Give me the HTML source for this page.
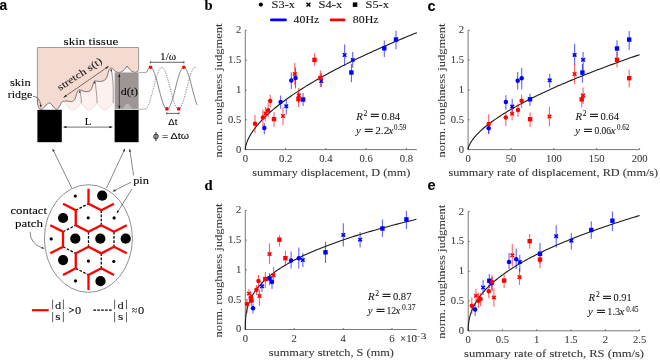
<!DOCTYPE html>
<html><head><meta charset="utf-8"><style>
html,body{margin:0;padding:0;background:#fff;width:660px;height:361px;overflow:hidden}
svg{display:block;will-change:transform}
</style></head><body>
<svg width="660" height="361" viewBox="0 0 660 361"><text x="-0.4" y="10.4" font-size="13.8" fill="#000" text-anchor="start" style="font-family:'Liberation Sans',sans-serif;font-weight:bold;"  stroke="#000" stroke-width="0.08">a</text>
<text x="204.5" y="10.1" font-size="14.6" fill="#000" text-anchor="start" style="font-family:'Liberation Serif',serif;font-weight:bold;"  stroke="#000" stroke-width="0.08">b</text>
<text x="427.6" y="10.6" font-size="14.5" fill="#000" text-anchor="start" style="font-family:'Liberation Sans',sans-serif;font-weight:bold;"  stroke="#000" stroke-width="0.08">c</text>
<text x="204.5" y="189.7" font-size="14.6" fill="#000" text-anchor="start" style="font-family:'Liberation Serif',serif;font-weight:bold;"  stroke="#000" stroke-width="0.08">d</text>
<text x="427.4" y="189.8" font-size="14.5" fill="#000" text-anchor="start" style="font-family:'Liberation Sans',sans-serif;font-weight:bold;"  stroke="#000" stroke-width="0.08">e</text>
<path d="M62.6,101.5 L64.5,103 L70.2,109.3 Q72.8,110.2 75.6,109.3 L81.3,103.2 L86.6,109.3 Q89.1,110.2 91.6,109.3 L97.1,103.2 L102.4,109.3 Q104.9,110.2 107.4,109.3 L113.1,103.2 L114.6,101 L114.6,73 L119.1,72.5 L138.6,72.5 L138.6,70 L119.1,72.5 C118.55,72.38 116.77,72.38 115.80,71.80 C114.83,71.22 114.17,69.62 113.30,69.00 C112.43,68.38 111.35,67.83 110.60,68.10 C109.85,68.37 109.30,69.48 108.80,70.60 C108.30,71.72 108.12,73.37 107.60,74.80 C107.08,76.23 106.65,78.12 105.70,79.20 C104.75,80.28 103.32,80.95 101.90,81.30 C100.48,81.65 98.37,81.37 97.20,81.30 C96.03,81.23 95.48,80.75 94.90,80.90 C94.32,81.05 94.10,81.30 93.70,82.20 C93.30,83.10 93.02,84.95 92.50,86.30 C91.98,87.65 91.57,89.38 90.60,90.30 C89.63,91.22 88.12,91.73 86.70,91.80 C85.28,91.87 83.35,91.03 82.10,90.70 C80.85,90.37 79.90,89.82 79.20,89.80 C78.50,89.78 78.32,89.98 77.90,90.60 C77.48,91.22 77.20,92.07 76.70,93.50 C76.20,94.93 75.75,97.85 74.90,99.20 C74.05,100.55 72.92,101.30 71.60,101.60 C70.28,101.90 68.50,101.02 67.00,101.00 C65.50,100.98 63.33,101.42 62.60,101.50 Z" fill="#fcf1ee" stroke="none"/>
<path d="M64.5,103 L70.2,109.3 Q72.8,110.2 75.6,109.3 L81.3,103.2 L86.6,109.3 Q89.1,110.2 91.6,109.3 L97.1,103.2 L102.4,109.3 Q104.9,110.2 107.4,109.3 L113.1,103.2" fill="none" stroke="#b8a8a4" stroke-width="0.45" stroke-dasharray="0.8,0.6"/>
<path d="M37.4,47.5 L138.6,47.5 L138.6,70 Q137,72.6 135.3,72.4 Q131.5,72.5 127,66 Q123,72.6 119.1,72.5 L119.1,72.5 C118.55,72.38 116.77,72.38 115.80,71.80 C114.83,71.22 114.17,69.62 113.30,69.00 C112.43,68.38 111.35,67.83 110.60,68.10 C109.85,68.37 109.30,69.48 108.80,70.60 C108.30,71.72 108.12,73.37 107.60,74.80 C107.08,76.23 106.65,78.12 105.70,79.20 C104.75,80.28 103.32,80.95 101.90,81.30 C100.48,81.65 98.37,81.37 97.20,81.30 C96.03,81.23 95.48,80.75 94.90,80.90 C94.32,81.05 94.10,81.30 93.70,82.20 C93.30,83.10 93.02,84.95 92.50,86.30 C91.98,87.65 91.57,89.38 90.60,90.30 C89.63,91.22 88.12,91.73 86.70,91.80 C85.28,91.87 83.35,91.03 82.10,90.70 C80.85,90.37 79.90,89.82 79.20,89.80 C78.50,89.78 78.32,89.98 77.90,90.60 C77.48,91.22 77.20,92.07 76.70,93.50 C76.20,94.93 75.75,97.85 74.90,99.20 C74.05,100.55 72.92,101.30 71.60,101.60 C70.28,101.90 68.50,101.02 67.00,101.00 C65.50,100.98 63.33,101.42 62.60,101.50 C60.5,103 59,109.3 56.6,109.3 C54,109.3 52,103 49.3,103 C46.5,103 44,109.3 41.3,109.3 C39,109.3 37.4,106 37.4,100 Z" fill="#f4dad0" stroke="none"/>
<path d="M37.4,100.5 L37.4,47.5 L138.6,47.5 L138.6,70" fill="none" stroke="#8c8480" stroke-width="0.8"/>
<path d="M37.4,100 C37.4,106 39,109.3 41.3,109.3 C44,109.3 46.5,103 49.3,103 C52,103 54,109.3 56.6,109.3 C59,109.3 60.5,103 62.6,101.5 L62.6,101.5 C63.33,101.42 65.50,100.98 67.00,101.00 C68.50,101.02 70.28,101.90 71.60,101.60 C72.92,101.30 74.05,100.55 74.90,99.20 C75.75,97.85 76.20,94.93 76.70,93.50 C77.20,92.07 77.48,91.22 77.90,90.60 C78.32,89.98 78.50,89.78 79.20,89.80 C79.90,89.82 80.85,90.37 82.10,90.70 C83.35,91.03 85.28,91.87 86.70,91.80 C88.12,91.73 89.63,91.22 90.60,90.30 C91.57,89.38 91.98,87.65 92.50,86.30 C93.02,84.95 93.30,83.10 93.70,82.20 C94.10,81.30 94.32,81.05 94.90,80.90 C95.48,80.75 96.03,81.23 97.20,81.30 C98.37,81.37 100.48,81.65 101.90,81.30 C103.32,80.95 104.75,80.28 105.70,79.20 C106.65,78.12 107.08,76.23 107.60,74.80 C108.12,73.37 108.30,71.72 108.80,70.60 C109.30,69.48 109.85,68.37 110.60,68.10 C111.35,67.83 112.43,68.38 113.30,69.00 C114.17,69.62 114.83,71.22 115.80,71.80 C116.77,72.38 118.55,72.38 119.10,72.50 Q123,72.6 127,66 Q131.5,72.5 135.3,72.4 Q137,72.6 138.6,70" fill="none" stroke="#4a4040" stroke-width="0.7" stroke-linejoin="round"/>
<polyline points="79.60,90.50 80.40,93.00 80.90,96.60 81.30,100.00 81.30,103.20" fill="none" stroke="#5a5050" stroke-width="0.55"/>
<polyline points="95.10,81.50 95.60,85.00 96.00,89.60 96.80,96.00 97.10,103.20" fill="none" stroke="#5a5050" stroke-width="0.55"/>
<polyline points="111.00,69.20 112.00,74.00 112.90,81.40 113.30,92.00 113.10,103.20" fill="none" stroke="#5a5050" stroke-width="0.55"/>
<ellipse cx="79.8" cy="91.9" rx="0.6" ry="1.1" fill="#222"/>
<ellipse cx="94.7" cy="82.6" rx="0.6" ry="1.1" fill="#222"/>
<ellipse cx="111.2" cy="70.4" rx="0.6" ry="1.1" fill="#222"/>
<rect x="114.7" y="72.5" width="23.9" height="36.4" fill="#9d9695"/>
<path d="M114.7,72.6 Q117,72.8 119.1,72.5 Q123,72.6 127,66 Q131.5,72.5 135.3,72.4 Q137,72.6 138.6,72.5" fill="none" stroke="none"/>
<path d="M122.6,108.9 L126.3,104 Q127.5,102.9 128.7,104 L132.6,108.9 Z" fill="#b9b5b4"/>
<rect x="37.4" y="109.8" width="24.4" height="32.4" fill="#000"/>
<rect x="114.6" y="109.8" width="24" height="32.4" fill="#000"/>
<path d="M138.6,72.5 L146.7,72.5" stroke="#9a9a9a" stroke-width="0.8" fill="none"/>
<path d="M138.6,109.2 L145.3,109.2" stroke="#9a9a9a" stroke-width="0.8" fill="none"/>
<polyline points="146.70,72.15 147.20,70.97 147.70,69.93 148.20,69.06 148.70,68.36 149.20,67.83 149.70,67.48 150.20,67.31 150.70,67.33 151.20,67.54 151.70,67.92 152.20,68.48 152.70,69.22 153.20,70.13 153.70,71.19 154.20,72.40 154.70,73.76 155.20,75.24 155.70,76.83 156.20,78.53 156.70,80.31 157.20,82.16 157.70,84.06 158.20,86.00 158.70,87.95 159.20,89.91 159.70,91.86 160.20,93.77 160.70,95.63 161.20,97.42 161.70,99.14 162.20,100.75 162.70,102.26 163.20,103.64 163.70,104.88 164.20,105.97 164.70,106.91 165.20,107.68 165.70,108.28 166.20,108.70 166.70,108.94 167.20,109.00 167.70,108.87 168.20,108.56 168.70,108.06 169.20,107.39 169.70,106.56 170.20,105.55 170.70,104.40 171.20,103.10 171.70,101.67 172.20,100.12 172.70,98.46 173.20,96.71 173.70,94.89 174.20,93.01 174.70,91.08 175.20,89.13 175.70,87.17 176.20,85.22 176.70,83.29 177.20,81.41 177.70,79.59 178.20,77.84 178.70,76.18 179.20,74.63 179.70,73.20 180.20,71.90 180.70,70.75 181.20,69.74 181.70,68.91 182.20,68.24 182.70,67.74 183.20,67.43 183.70,67.30 184.20,67.36 184.70,67.60 185.20,68.02 185.70,68.62 186.20,69.39 186.70,70.33 187.20,71.42 187.70,72.66 188.20,74.04 188.70,75.55 189.20,77.16 189.70,78.88 190.20,80.67 190.70,82.53 191.20,84.44 191.70,86.39 192.20,88.35 192.70,90.30 193.20,92.24 193.70,94.14 194.20,95.99 194.70,97.77 195.20,99.47 195.70,101.06 196.20,102.54 196.70,103.90 197.20,105.11" fill="none" stroke="#333" stroke-width="0.6"/>
<polyline points="145.30,108.99 145.80,108.82 146.30,108.47 146.80,107.94 147.30,107.24 147.80,106.37 148.30,105.33 148.80,104.15 149.30,102.82 149.80,101.37 150.30,99.79 150.80,98.12 151.30,96.35 151.80,94.52 152.30,92.63 152.80,90.69 153.30,88.74 153.80,86.78 154.30,84.83 154.80,82.91 155.30,81.04 155.80,79.23 156.30,77.50 156.80,75.86 157.30,74.34 157.80,72.93 158.30,71.66 158.80,70.53 159.30,69.56 159.80,68.76 160.30,68.12 160.80,67.67 161.30,67.39 161.80,67.30 162.30,67.39 162.80,67.67 163.30,68.12 163.80,68.76 164.30,69.56 164.80,70.53 165.30,71.66 165.80,72.93 166.30,74.34 166.80,75.86 167.30,77.50 167.80,79.23 168.30,81.04 168.80,82.91 169.30,84.83 169.80,86.78 170.30,88.74 170.80,90.69 171.30,92.63 171.80,94.52 172.30,96.35 172.80,98.12 173.30,99.79 173.80,101.37 174.30,102.82 174.80,104.15 175.30,105.33 175.80,106.37 176.30,107.24 176.80,107.94 177.30,108.47 177.80,108.82 178.30,108.99 178.80,108.97 179.30,108.76 179.80,108.38 180.30,107.82 180.80,107.08 181.30,106.17 181.80,105.11 182.30,103.90 182.80,102.54 183.30,101.06 183.80,99.47 184.30,97.77 184.80,95.99 185.30,94.14 185.80,92.24 186.30,90.30 186.80,88.35 187.30,86.39 187.80,84.44 188.30,82.53 188.80,80.67 189.30,78.88 189.80,77.16 190.30,75.55 190.80,74.04 191.30,72.66 191.80,71.42 192.30,70.33 192.80,69.39 193.30,68.62 193.80,68.02 194.30,67.60 194.80,67.36 195.30,67.30 195.80,67.43 196.30,67.74 196.80,68.24" fill="none" stroke="#333" stroke-width="0.6" stroke-dasharray="1.2,1.2"/>
<circle cx="150.5" cy="67.3" r="1.8" fill="#ff0000"/>
<circle cx="183.8" cy="67.3" r="1.8" fill="#ff0000"/>
<circle cx="166.9" cy="108.9" r="1.8" fill="#ff0000"/>
<circle cx="178.7" cy="108.9" r="1.8" fill="#ff0000"/>
<path d="M150.2,62.3 L184.1,62.3 M150.4,61.2 L150.4,63.4 M183.9,61.2 L183.9,63.4" stroke="#222" stroke-width="0.7" fill="none"/>
<text x="168.2" y="59.6" font-size="10.5" fill="#000" text-anchor="middle" style="font-family:'Liberation Serif',serif;font-weight:normal;" textLength="16.2" lengthAdjust="spacingAndGlyphs"  stroke="#000" stroke-width="0.08">1/ω</text>
<path d="M166.6,113.4 L179.1,113.4 M166.8,112.3 L166.8,114.5 M178.9,112.3 L178.9,114.5" stroke="#222" stroke-width="0.7" fill="none"/>
<text x="172.8" y="124.5" font-size="9" fill="#000" text-anchor="middle" style="font-family:'Liberation Sans',sans-serif;font-weight:normal;" textLength="9" lengthAdjust="spacingAndGlyphs"  stroke="#000" stroke-width="0.08">Δt</text>
<text x="171" y="139.4" font-size="9.5" fill="#000" text-anchor="middle" style="font-family:'Liberation Sans',sans-serif;font-weight:normal;" textLength="36" lengthAdjust="spacingAndGlyphs"  stroke="#000" stroke-width="0.08">ϕ = Δtω</text>
<path d="M119.3,75.5 L119.3,107.5" stroke="#111" stroke-width="0.6"/>
<path d="M119.3,73.6 L118.2,77 L120.4,77 Z M119.3,109.2 L118.2,105.8 L120.4,105.8 Z" fill="#111"/>
<text x="129.4" y="94.6" font-size="10.3" fill="#000" text-anchor="middle" style="font-family:'Liberation Serif',serif;font-weight:normal;" textLength="17.2" lengthAdjust="spacingAndGlyphs"  stroke="#000" stroke-width="0.08">d(t)</text>
<path d="M64.5,127.1 L111.5,127.1" stroke="#111" stroke-width="0.6"/>
<path d="M62.9,127.1 L66.4,126 L66.4,128.2 Z M112.9,127.1 L109.4,126 L109.4,128.2 Z" fill="#111"/>
<text x="88" y="125.1" font-size="10.6" fill="#000" text-anchor="middle" style="font-family:'Liberation Serif',serif;font-weight:normal;" textLength="6.6" lengthAdjust="spacingAndGlyphs"  stroke="#000" stroke-width="0.08">L</text>
<path d="M63.6,97.4 L108.6,66.3" stroke="#222" stroke-width="0.6"/>
<path d="M108.60,66.30 L106.59,69.02 L105.34,67.21 Z M63.60,97.40 L65.61,94.68 L66.86,96.49 Z" fill="#222"/>
<text x="0" y="0" font-size="10" fill="#1a1a1a" transform="translate(60.0,90.9) rotate(-33.4)" style="font-family:'Liberation Serif',serif" textLength="51.5" lengthAdjust="spacingAndGlyphs" stroke="#1a1a1a" stroke-width="0.08">stretch s(t)</text>
<text x="63.6" y="44.7" font-size="9.4" fill="#000" text-anchor="start" style="font-family:'Liberation Serif',serif;font-weight:normal;" textLength="54.6" lengthAdjust="spacingAndGlyphs"  stroke="#000" stroke-width="0.08">skin tissue</text>
<text x="10" y="85.7" font-size="9.6" fill="#000" text-anchor="start" style="font-family:'Liberation Serif',serif;font-weight:normal;" textLength="20.7" lengthAdjust="spacingAndGlyphs"  stroke="#000" stroke-width="0.08">skin</text>
<text x="7.8" y="97.9" font-size="9.6" fill="#000" text-anchor="start" style="font-family:'Liberation Serif',serif;font-weight:normal;" textLength="24.6" lengthAdjust="spacingAndGlyphs"  stroke="#000" stroke-width="0.08">ridge</text>
<path d="M33,96.2 Q39.5,96.5 40.8,105.5" fill="none" stroke="#222" stroke-width="0.6"/>
<path d="M41.00,107.80 L39.54,104.96 L41.73,104.69 Z" fill="#222"/>
<ellipse cx="88.4" cy="238.55" rx="44" ry="53.85" fill="none" stroke="#333" stroke-width="0.55"/>
<path d="M75.75,210.25 L88.50,203.70 M101.25,210.25 L101.25,225.25 M63.00,231.80 L75.75,225.25 M88.50,231.80 L88.50,246.80 M114.00,231.80 L114.00,246.80 M63.00,246.80 L75.75,253.35 M101.25,253.35 L101.25,268.35 M75.75,268.35 L88.50,274.90" stroke="#000" stroke-width="1.25" stroke-dasharray="2.7,1.5" fill="none"/>
<path d="M88.5,188.7 L88.5,203.7 L101.25,210.25 L114.0,203.7 M63.0,203.7 L75.75,210.25 L75.75,225.25 L88.5,231.8 L101.25,225.25 L114.0,231.8 L126.75,225.25 M50.25,225.25 L63.0,231.8 L63.0,246.8 L50.25,253.35 M63.0,274.9 L75.75,268.35 L75.75,253.35 L88.5,246.8 L101.25,253.35 L114.0,246.8 L126.75,253.35 M88.5,289.9 L88.5,274.9 L101.25,268.35 L114.0,274.9" stroke="#ff0000" stroke-width="2.3" stroke-linecap="butt" stroke-linejoin="miter" stroke-miterlimit="3" fill="none"/>
<circle cx="102.20" cy="195.70" r="5.1" fill="#000"/>
<circle cx="63.10" cy="218.00" r="5.1" fill="#000"/>
<circle cx="75.30" cy="238.70" r="5.1" fill="#000"/>
<circle cx="100.30" cy="238.70" r="5.1" fill="#000"/>
<circle cx="125.70" cy="238.70" r="5.1" fill="#000"/>
<circle cx="63.10" cy="260.10" r="5.1" fill="#000"/>
<circle cx="100.50" cy="281.20" r="5.1" fill="#000"/>
<circle cx="75.30" cy="196.10" r="1.6" fill="#000"/>
<circle cx="88.20" cy="217.80" r="1.6" fill="#000"/>
<circle cx="114.10" cy="217.90" r="1.6" fill="#000"/>
<circle cx="51.20" cy="238.90" r="1.6" fill="#000"/>
<circle cx="88.40" cy="261.10" r="1.6" fill="#000"/>
<circle cx="113.80" cy="261.40" r="1.6" fill="#000"/>
<circle cx="75.50" cy="280.90" r="1.6" fill="#000"/>
<path d="M71.8,188.2 L53.50,150.65" stroke="#222" stroke-width="0.55"/>
<path d="M52.40,148.40 L54.79,150.79 L52.81,151.76 Z" fill="#222"/>
<path d="M106.4,188.2 L124.04,150.66" stroke="#222" stroke-width="0.55"/>
<path d="M125.10,148.40 L124.73,151.76 L122.74,150.83 Z" fill="#222"/>
<path d="M133.6,175.5 L129.97,150.87" stroke="#222" stroke-width="0.55"/>
<path d="M129.60,148.40 L131.16,151.41 L128.98,151.73 Z" fill="#222"/>
<path d="M131,182.2 L114.73,190.47" stroke="#222" stroke-width="0.55"/>
<path d="M112.50,191.60 L114.85,189.17 L115.85,191.13 Z" fill="#222"/>
<path d="M132,189 L117.93,211.48" stroke="#222" stroke-width="0.55"/>
<path d="M116.60,213.60 L117.37,210.30 L119.23,211.47 Z" fill="#222"/>
<text x="133.2" y="184.1" font-size="9.6" fill="#000" text-anchor="start" style="font-family:'Liberation Serif',serif;font-weight:normal;" textLength="15.8" lengthAdjust="spacingAndGlyphs"  stroke="#000" stroke-width="0.08">pin</text>
<text x="10.5" y="214.2" font-size="9.6" fill="#000" text-anchor="start" style="font-family:'Liberation Serif',serif;font-weight:normal;" textLength="36.5" lengthAdjust="spacingAndGlyphs"  stroke="#000" stroke-width="0.08">contact</text>
<text x="15" y="226.6" font-size="9.6" fill="#000" text-anchor="start" style="font-family:'Liberation Serif',serif;font-weight:normal;" textLength="28" lengthAdjust="spacingAndGlyphs"  stroke="#000" stroke-width="0.08">patch</text>
<path d="M30,231.8 Q30.5,244 42,247.8" fill="none" stroke="#222" stroke-width="0.55"/>
<path d="M44.50,248.40 L41.54,248.69 L42.03,246.75 Z" fill="#222"/>
<path d="M32,310.2 L48.7,310.2" stroke="#ff0000" stroke-width="2.2"/>
<path d="M93.4,310.2 L111.8,310.2" stroke="#000" stroke-width="1.3" stroke-dasharray="2.6,1.3"/>
<path d="M52.6,299.6 L52.6,309.3 M52.6,312 L52.6,322.2" stroke="#444" stroke-width="0.85"/>
<path d="M63.4,299.6 L63.4,309.3 M63.4,312 L63.4,322.2" stroke="#444" stroke-width="0.85"/>
<text x="58.0" y="308.9" font-size="10.4" fill="#111" text-anchor="middle" style="font-family:'Liberation Serif',serif;font-weight:normal;" textLength="6.2" lengthAdjust="spacingAndGlyphs"  stroke="#111" stroke-width="0.08">d</text>
<text x="58.0" y="320.3" font-size="10.4" fill="#111" text-anchor="middle" style="font-family:'Liberation Serif',serif;font-weight:normal;" textLength="5.3" lengthAdjust="spacingAndGlyphs"  stroke="#111" stroke-width="0.08">s</text>
<path d="M114.6,299.6 L114.6,309.3 M114.6,312 L114.6,322.2" stroke="#444" stroke-width="0.85"/>
<path d="M126.5,299.6 L126.5,309.3 M126.5,312 L126.5,322.2" stroke="#444" stroke-width="0.85"/>
<text x="120.55" y="308.9" font-size="10.4" fill="#111" text-anchor="middle" style="font-family:'Liberation Serif',serif;font-weight:normal;" textLength="6.2" lengthAdjust="spacingAndGlyphs"  stroke="#111" stroke-width="0.08">d</text>
<text x="120.55" y="320.3" font-size="10.4" fill="#111" text-anchor="middle" style="font-family:'Liberation Serif',serif;font-weight:normal;" textLength="5.3" lengthAdjust="spacingAndGlyphs"  stroke="#111" stroke-width="0.08">s</text>
<path d="M68.9,307.8 L73.8,310.1 L68.9,312.4" fill="none" stroke="#111" stroke-width="0.9"/>
<text x="75.0" y="313.9" font-size="11" fill="#111" text-anchor="start" style="font-family:'Liberation Serif',serif;font-weight:normal;" textLength="6.2" lengthAdjust="spacingAndGlyphs"  stroke="#111" stroke-width="0.08">0</text>
<text x="131.7" y="314.0" font-size="11" fill="#111" text-anchor="start" style="font-family:'Liberation Serif',serif;font-weight:normal;" textLength="5.4" lengthAdjust="spacingAndGlyphs"  stroke="#111" stroke-width="0.08">≈</text>
<text x="137.9" y="314.3" font-size="11" fill="#111" text-anchor="start" style="font-family:'Liberation Serif',serif;font-weight:normal;" textLength="6.2" lengthAdjust="spacingAndGlyphs"  stroke="#111" stroke-width="0.08">0</text>
<path d="M245.3,30.3 L245.3,149.6 L416.8,149.6" fill="none" stroke="#555" stroke-width="0.8"/>
<path d="M245.3,149.60 L246.9,149.60" stroke="#555" stroke-width="0.8"/>
<text x="241.20000000000002" y="152.5" font-size="10.6" fill="#3a3a3a" text-anchor="end" style="font-family:'Liberation Serif',serif;font-weight:normal;"  stroke="#3a3a3a" stroke-width="0.08">0</text>
<path d="M245.3,119.77 L246.9,119.77" stroke="#555" stroke-width="0.8"/>
<text x="241.20000000000002" y="122.675" font-size="10.6" fill="#3a3a3a" text-anchor="end" style="font-family:'Liberation Serif',serif;font-weight:normal;"  stroke="#3a3a3a" stroke-width="0.08">0.5</text>
<path d="M245.3,89.95 L246.9,89.95" stroke="#555" stroke-width="0.8"/>
<text x="241.20000000000002" y="92.85" font-size="10.6" fill="#3a3a3a" text-anchor="end" style="font-family:'Liberation Serif',serif;font-weight:normal;"  stroke="#3a3a3a" stroke-width="0.08">1</text>
<path d="M245.3,60.12 L246.9,60.12" stroke="#555" stroke-width="0.8"/>
<text x="241.20000000000002" y="63.025" font-size="10.6" fill="#3a3a3a" text-anchor="end" style="font-family:'Liberation Serif',serif;font-weight:normal;"  stroke="#3a3a3a" stroke-width="0.08">1.5</text>
<path d="M245.3,30.30 L246.9,30.30" stroke="#555" stroke-width="0.8"/>
<text x="241.20000000000002" y="33.199999999999996" font-size="10.6" fill="#3a3a3a" text-anchor="end" style="font-family:'Liberation Serif',serif;font-weight:normal;"  stroke="#3a3a3a" stroke-width="0.08">2</text>
<path d="M245.30,149.6 L245.30,148.0" stroke="#555" stroke-width="0.8"/>
<text x="245.3" y="162.0" font-size="10.6" fill="#3a3a3a" text-anchor="middle" style="font-family:'Liberation Serif',serif;font-weight:normal;"  stroke="#3a3a3a" stroke-width="0.08">0</text>
<path d="M285.58,149.6 L285.58,148.0" stroke="#555" stroke-width="0.8"/>
<text x="285.58000000000004" y="162.0" font-size="10.6" fill="#3a3a3a" text-anchor="middle" style="font-family:'Liberation Serif',serif;font-weight:normal;"  stroke="#3a3a3a" stroke-width="0.08">0.2</text>
<path d="M325.86,149.6 L325.86,148.0" stroke="#555" stroke-width="0.8"/>
<text x="325.86" y="162.0" font-size="10.6" fill="#3a3a3a" text-anchor="middle" style="font-family:'Liberation Serif',serif;font-weight:normal;"  stroke="#3a3a3a" stroke-width="0.08">0.4</text>
<path d="M366.14,149.6 L366.14,148.0" stroke="#555" stroke-width="0.8"/>
<text x="366.14" y="162.0" font-size="10.6" fill="#3a3a3a" text-anchor="middle" style="font-family:'Liberation Serif',serif;font-weight:normal;"  stroke="#3a3a3a" stroke-width="0.08">0.6</text>
<path d="M406.42,149.6 L406.42,148.0" stroke="#555" stroke-width="0.8"/>
<text x="406.42" y="162.0" font-size="10.6" fill="#3a3a3a" text-anchor="middle" style="font-family:'Liberation Serif',serif;font-weight:normal;"  stroke="#3a3a3a" stroke-width="0.08">0.8</text>
<polyline points="245.30,149.60 245.31,149.19 245.35,148.67 245.41,148.09 245.49,147.49 245.60,146.85 245.73,146.19 245.88,145.51 246.06,144.81 246.27,144.10 246.49,143.37 246.74,142.63 247.02,141.87 247.31,141.11 247.64,140.33 247.98,139.55 248.35,138.75 248.74,137.94 249.16,137.13 249.60,136.31 250.07,135.48 250.56,134.64 251.07,133.80 251.60,132.95 252.16,132.09 252.75,131.23 253.36,130.36 253.99,129.48 254.64,128.60 255.32,127.71 256.02,126.82 256.75,125.92 257.50,125.02 258.28,124.11 259.08,123.19 259.90,122.27 260.74,121.35 261.61,120.42 262.51,119.49 263.42,118.55 264.37,117.61 265.33,116.66 266.32,115.71 267.33,114.76 268.37,113.80 269.43,112.84 270.51,111.87 271.62,110.90 272.75,109.93 273.91,108.95 275.09,107.97 276.29,106.99 277.52,106.00 278.77,105.01 280.05,104.02 281.35,103.02 282.67,102.02 284.02,101.01 285.39,100.01 286.78,99.00 288.20,97.98 289.64,96.97 291.11,95.95 292.60,94.92 294.11,93.90 295.65,92.87 297.21,91.84 298.79,90.80 300.40,89.77 302.03,88.73 303.69,87.68 305.37,86.64 307.07,85.59 308.80,84.54 310.55,83.49 312.33,82.43 314.13,81.38 315.95,80.31 317.80,79.25 319.67,78.19 321.56,77.12 323.48,76.05 325.42,74.98 327.39,73.90 329.38,72.82 331.39,71.74 333.43,70.66 335.49,69.58 337.58,68.49 339.69,67.40 341.82,66.31 343.98,65.22 346.16,64.12 348.36,63.02 350.59,61.93 352.84,60.82 355.12,59.72 357.42,58.61 359.74,57.51 362.09,56.40 364.46,55.28 366.86,54.17 369.28,53.05 371.72,51.94 374.19,50.82 376.68,49.70 379.19,48.57 381.73,47.45 384.29,46.32 386.88,45.19 389.49,44.06 392.12,42.92 394.78,41.79 397.46,40.65 400.16,39.51 402.89,38.37 405.64,37.23 408.42,36.09 411.22,34.94 414.04,33.79 416.89,32.65" fill="none" stroke="#1a1a1a" stroke-width="1.1"/>
<path d="M255,114.9 L255,132.9" stroke="#ff0000" stroke-opacity="0.62" stroke-width="1.1"/>
<path d="M264.3,123.2 L264.3,134.3" stroke="#0000ff" stroke-opacity="0.62" stroke-width="1.1"/>
<path d="M262.9,109.4 L262.9,126" stroke="#ff0000" stroke-opacity="0.62" stroke-width="1.1"/>
<path d="M265.5,107 L265.5,121" stroke="#ff0000" stroke-opacity="0.62" stroke-width="1.1"/>
<path d="M268.1,103 L268.1,117.5" stroke="#ff0000" stroke-opacity="0.62" stroke-width="1.1"/>
<path d="M270.2,94.8 L270.2,107.3" stroke="#ff0000" stroke-opacity="0.62" stroke-width="1.1"/>
<path d="M274,112.2 L274,126.7" stroke="#ff0000" stroke-opacity="0.62" stroke-width="1.1"/>
<path d="M280.6,95.5 L280.6,108.7" stroke="#0000ff" stroke-opacity="0.62" stroke-width="1.1"/>
<path d="M286.3,99 L286.3,114.2" stroke="#0000ff" stroke-opacity="0.62" stroke-width="1.1"/>
<path d="M283,107.3 L283,125.3" stroke="#ff0000" stroke-opacity="0.62" stroke-width="1.1"/>
<path d="M291.3,72.5 L291.3,89.1" stroke="#0000ff" stroke-opacity="0.62" stroke-width="1.1"/>
<path d="M295.5,67.6 L295.5,88.4" stroke="#0000ff" stroke-opacity="0.62" stroke-width="1.1"/>
<path d="M294.8,62.8 L294.8,85" stroke="#ff0000" stroke-opacity="0.62" stroke-width="1.1"/>
<path d="M298.8,88 L298.8,103" stroke="#ff0000" stroke-opacity="0.62" stroke-width="1.1"/>
<path d="M298.5,92 L298.5,107" stroke="#ff0000" stroke-opacity="0.62" stroke-width="1.1"/>
<path d="M303.1,93 L303.1,106" stroke="#0000ff" stroke-opacity="0.62" stroke-width="1.1"/>
<path d="M314.5,53.1 L314.5,65.7" stroke="#ff0000" stroke-opacity="0.62" stroke-width="1.1"/>
<path d="M321.3,73 L321.3,87" stroke="#0000ff" stroke-opacity="0.62" stroke-width="1.1"/>
<path d="M320.4,70.6 L320.4,87" stroke="#ff0000" stroke-opacity="0.62" stroke-width="1.1"/>
<path d="M344.6,44.4 L344.6,65.7" stroke="#0000ff" stroke-opacity="0.62" stroke-width="1.1"/>
<path d="M352.7,52.1 L352.7,67.7" stroke="#0000ff" stroke-opacity="0.62" stroke-width="1.1"/>
<path d="M351.4,63.8 L351.4,82.2" stroke="#0000ff" stroke-opacity="0.62" stroke-width="1.1"/>
<path d="M384.3,40.5 L384.3,57" stroke="#0000ff" stroke-opacity="0.62" stroke-width="1.1"/>
<path d="M396,30.8 L396,49.2" stroke="#0000ff" stroke-opacity="0.62" stroke-width="1.1"/>
<circle cx="255" cy="123.8" r="2.25" fill="#ff0000"/>
<circle cx="264.3" cy="128.1" r="2.25" fill="#0000ff"/>
<circle cx="262.9" cy="117.5" r="2.25" fill="#ff0000"/>
<path d="M263.7,111.8 L267.3,115.2 M263.7,115.2 L267.3,111.8" stroke="#ff0000" stroke-width="1.55"/>
<circle cx="268.1" cy="110.2" r="2.25" fill="#ff0000"/>
<circle cx="270.2" cy="101" r="2.25" fill="#ff0000"/>
<rect x="271.8" y="116.89999999999999" width="4.4" height="4.4" fill="#ff0000"/>
<circle cx="280.6" cy="101.9" r="2.25" fill="#0000ff"/>
<path d="M284.5,104.5 L288.1,107.9 M284.5,107.9 L288.1,104.5" stroke="#0000ff" stroke-width="1.55"/>
<path d="M281.2,114.3 L284.8,117.7 M281.2,117.7 L284.8,114.3" stroke="#ff0000" stroke-width="1.55"/>
<circle cx="291.3" cy="80.5" r="2.25" fill="#0000ff"/>
<circle cx="295.5" cy="78" r="2.25" fill="#0000ff"/>
<path d="M293.0,72.2 L296.6,75.60000000000001 M293.0,75.60000000000001 L296.6,72.2" stroke="#ff0000" stroke-width="1.55"/>
<path d="M297.0,93.6 L300.6,97.0 M297.0,97.0 L300.6,93.6" stroke="#ff0000" stroke-width="1.55"/>
<rect x="296.3" y="97.0" width="4.4" height="4.4" fill="#ff0000"/>
<rect x="300.90000000000003" y="97.3" width="4.4" height="4.4" fill="#0000ff"/>
<rect x="312.3" y="57.699999999999996" width="4.4" height="4.4" fill="#ff0000"/>
<path d="M319.5,79.3 L323.1,82.7 M319.5,82.7 L323.1,79.3" stroke="#0000ff" stroke-width="1.55"/>
<rect x="318.2" y="75.8" width="4.4" height="4.4" fill="#ff0000"/>
<path d="M342.8,53.3 L346.40000000000003,56.7 M342.8,56.7 L346.40000000000003,53.3" stroke="#0000ff" stroke-width="1.55"/>
<path d="M350.9,58.199999999999996 L354.5,61.6 M350.9,61.6 L354.5,58.199999999999996" stroke="#0000ff" stroke-width="1.55"/>
<rect x="349.2" y="70.3" width="4.4" height="4.4" fill="#0000ff"/>
<rect x="382.1" y="46.099999999999994" width="4.4" height="4.4" fill="#0000ff"/>
<rect x="393.8" y="37.3" width="4.4" height="4.4" fill="#0000ff"/>
<text x="0" y="0" font-size="11.4" fill="#3a3a3a" transform="translate(222.4,90.45) rotate(-90)" text-anchor="middle" style="font-family:'Liberation Serif',serif" textLength="134" lengthAdjust="spacingAndGlyphs" stroke="#3a3a3a" stroke-width="0.08">norm. roughness judgment</text>
<text x="252.3" y="175.9" font-size="10.8" fill="#333" text-anchor="start" style="font-family:'Liberation Serif',serif;font-weight:normal;" textLength="158.1" lengthAdjust="spacingAndGlyphs"  stroke="#333" stroke-width="0.08">summary displacement, D (mm)</text>
<path d="M468.1,30.3 L468.1,149.6 L639.6,149.6" fill="none" stroke="#555" stroke-width="0.8"/>
<path d="M468.1,149.60 L469.70000000000005,149.60" stroke="#555" stroke-width="0.8"/>
<text x="464.0" y="152.5" font-size="10.6" fill="#3a3a3a" text-anchor="end" style="font-family:'Liberation Serif',serif;font-weight:normal;"  stroke="#3a3a3a" stroke-width="0.08">0</text>
<path d="M468.1,119.77 L469.70000000000005,119.77" stroke="#555" stroke-width="0.8"/>
<text x="464.0" y="122.675" font-size="10.6" fill="#3a3a3a" text-anchor="end" style="font-family:'Liberation Serif',serif;font-weight:normal;"  stroke="#3a3a3a" stroke-width="0.08">0.5</text>
<path d="M468.1,89.95 L469.70000000000005,89.95" stroke="#555" stroke-width="0.8"/>
<text x="464.0" y="92.85" font-size="10.6" fill="#3a3a3a" text-anchor="end" style="font-family:'Liberation Serif',serif;font-weight:normal;"  stroke="#3a3a3a" stroke-width="0.08">1</text>
<path d="M468.1,60.12 L469.70000000000005,60.12" stroke="#555" stroke-width="0.8"/>
<text x="464.0" y="63.025" font-size="10.6" fill="#3a3a3a" text-anchor="end" style="font-family:'Liberation Serif',serif;font-weight:normal;"  stroke="#3a3a3a" stroke-width="0.08">1.5</text>
<path d="M468.1,30.30 L469.70000000000005,30.30" stroke="#555" stroke-width="0.8"/>
<text x="464.0" y="33.199999999999996" font-size="10.6" fill="#3a3a3a" text-anchor="end" style="font-family:'Liberation Serif',serif;font-weight:normal;"  stroke="#3a3a3a" stroke-width="0.08">2</text>
<path d="M468.10,149.6 L468.10,148.0" stroke="#555" stroke-width="0.8"/>
<text x="468.1" y="162.0" font-size="10.6" fill="#3a3a3a" text-anchor="middle" style="font-family:'Liberation Serif',serif;font-weight:normal;"  stroke="#3a3a3a" stroke-width="0.08">0</text>
<path d="M510.98,149.6 L510.98,148.0" stroke="#555" stroke-width="0.8"/>
<text x="510.975" y="162.0" font-size="10.6" fill="#3a3a3a" text-anchor="middle" style="font-family:'Liberation Serif',serif;font-weight:normal;"  stroke="#3a3a3a" stroke-width="0.08">50</text>
<path d="M553.85,149.6 L553.85,148.0" stroke="#555" stroke-width="0.8"/>
<text x="553.85" y="162.0" font-size="10.6" fill="#3a3a3a" text-anchor="middle" style="font-family:'Liberation Serif',serif;font-weight:normal;"  stroke="#3a3a3a" stroke-width="0.08">100</text>
<path d="M596.73,149.6 L596.73,148.0" stroke="#555" stroke-width="0.8"/>
<text x="596.725" y="162.0" font-size="10.6" fill="#3a3a3a" text-anchor="middle" style="font-family:'Liberation Serif',serif;font-weight:normal;"  stroke="#3a3a3a" stroke-width="0.08">150</text>
<path d="M639.60,149.6 L639.60,148.0" stroke="#555" stroke-width="0.8"/>
<text x="639.6" y="162.0" font-size="10.6" fill="#3a3a3a" text-anchor="middle" style="font-family:'Liberation Serif',serif;font-weight:normal;"  stroke="#3a3a3a" stroke-width="0.08">200</text>
<polyline points="468.10,149.60 468.11,149.35 468.15,149.01 468.21,148.62 468.29,148.20 468.40,147.75 468.53,147.29 468.68,146.80 468.86,146.30 469.06,145.78 469.29,145.24 469.54,144.70 469.81,144.14 470.11,143.57 470.43,142.99 470.78,142.39 471.15,141.79 471.54,141.18 471.96,140.57 472.40,139.94 472.86,139.31 473.35,138.66 473.86,138.01 474.40,137.36 474.96,136.69 475.54,136.02 476.15,135.35 476.78,134.67 477.44,133.98 478.12,133.28 478.82,132.58 479.55,131.87 480.30,131.16 481.07,130.45 481.87,129.72 482.69,129.00 483.54,128.26 484.40,127.53 485.30,126.78 486.21,126.04 487.16,125.29 488.12,124.53 489.11,123.77 490.12,123.00 491.16,122.24 492.22,121.46 493.30,120.68 494.41,119.90 495.54,119.12 496.70,118.33 497.87,117.53 499.08,116.74 500.30,115.94 501.55,115.13 502.83,114.32 504.13,113.51 505.45,112.70 506.79,111.88 508.16,111.06 509.56,110.23 510.98,109.40 512.42,108.57 513.88,107.73 515.37,106.89 516.88,106.05 518.42,105.21 519.98,104.36 521.56,103.51 523.17,102.65 524.80,101.79 526.46,100.93 528.14,100.07 529.84,99.20 531.57,98.33 533.32,97.46 535.09,96.59 536.89,95.71 538.71,94.83 540.56,93.94 542.43,93.06 544.32,92.17 546.24,91.28 548.18,90.38 550.15,89.49 552.13,88.59 554.15,87.69 556.18,86.78 558.24,85.87 560.33,84.96 562.44,84.05 564.57,83.14 566.72,82.22 568.90,81.30 571.11,80.38 573.33,79.46 575.59,78.53 577.86,77.60 580.16,76.67 582.48,75.74 584.83,74.80 587.20,73.86 589.59,72.92 592.01,71.98 594.45,71.04 596.92,70.09 599.40,69.14 601.92,68.19 604.45,67.23 607.02,66.28 609.60,65.32 612.21,64.36 614.84,63.40 617.50,62.44 620.18,61.47 622.88,60.50 625.61,59.53 628.36,58.56 631.13,57.58 633.93,56.61 636.75,55.63 639.60,54.65" fill="none" stroke="#1a1a1a" stroke-width="1.1"/>
<path d="M488.7,114.2 L488.7,134" stroke="#ff0000" stroke-opacity="0.62" stroke-width="1.1"/>
<path d="M488.7,122 L488.7,134" stroke="#0000ff" stroke-opacity="0.62" stroke-width="1.1"/>
<path d="M505.9,95.3 L505.9,109.7" stroke="#0000ff" stroke-opacity="0.62" stroke-width="1.1"/>
<path d="M505.8,111.5 L505.8,125.9" stroke="#ff0000" stroke-opacity="0.62" stroke-width="1.1"/>
<path d="M512.2,98.9 L512.2,114.2" stroke="#0000ff" stroke-opacity="0.62" stroke-width="1.1"/>
<path d="M512.1,107 L512.1,120.5" stroke="#ff0000" stroke-opacity="0.62" stroke-width="1.1"/>
<path d="M518,103.4 L518,116.9" stroke="#ff0000" stroke-opacity="0.62" stroke-width="1.1"/>
<path d="M521.6,94.4 L521.6,107.9" stroke="#ff0000" stroke-opacity="0.62" stroke-width="1.1"/>
<path d="M530,93.5 L530,106.1" stroke="#0000ff" stroke-opacity="0.62" stroke-width="1.1"/>
<path d="M530.1,112.4 L530.1,126.8" stroke="#ff0000" stroke-opacity="0.62" stroke-width="1.1"/>
<path d="M517.7,72 L517.7,89.4" stroke="#0000ff" stroke-opacity="0.62" stroke-width="1.1"/>
<path d="M521.7,68.1 L521.7,89.4" stroke="#0000ff" stroke-opacity="0.62" stroke-width="1.1"/>
<path d="M549.7,73.9 L549.7,87.5" stroke="#0000ff" stroke-opacity="0.62" stroke-width="1.1"/>
<path d="M549.4,106.8 L549.4,126.2" stroke="#ff0000" stroke-opacity="0.62" stroke-width="1.1"/>
<path d="M574.6,43.8 L574.6,65" stroke="#0000ff" stroke-opacity="0.62" stroke-width="1.1"/>
<path d="M574.6,63.9 L574.6,83.9" stroke="#ff0000" stroke-opacity="0.62" stroke-width="1.1"/>
<path d="M583.1,52.1 L583.1,70.9" stroke="#0000ff" stroke-opacity="0.62" stroke-width="1.1"/>
<path d="M582.4,63.9 L582.4,82.7" stroke="#0000ff" stroke-opacity="0.62" stroke-width="1.1"/>
<path d="M583.1,87.4 L583.1,103.9" stroke="#ff0000" stroke-opacity="0.62" stroke-width="1.1"/>
<path d="M581.7,93.3 L581.7,107.4" stroke="#ff0000" stroke-opacity="0.62" stroke-width="1.1"/>
<path d="M617,40.3 L617,56.8" stroke="#0000ff" stroke-opacity="0.62" stroke-width="1.1"/>
<path d="M617,52.1 L617,67.4" stroke="#ff0000" stroke-opacity="0.62" stroke-width="1.1"/>
<path d="M629.2,30.9 L629.2,49.7" stroke="#0000ff" stroke-opacity="0.62" stroke-width="1.1"/>
<path d="M629.2,69.7 L629.2,87.4" stroke="#ff0000" stroke-opacity="0.62" stroke-width="1.1"/>
<circle cx="488.7" cy="124.1" r="2.25" fill="#ff0000"/>
<circle cx="488.7" cy="128.2" r="2.25" fill="#0000ff"/>
<circle cx="505.9" cy="102" r="2.25" fill="#0000ff"/>
<circle cx="505.8" cy="117.4" r="2.25" fill="#ff0000"/>
<path d="M510.40000000000003,104.89999999999999 L514.0,108.3 M510.40000000000003,108.3 L514.0,104.89999999999999" stroke="#0000ff" stroke-width="1.55"/>
<path d="M510.3,112.1 L513.9,115.5 M510.3,115.5 L513.9,112.1" stroke="#ff0000" stroke-width="1.55"/>
<circle cx="518" cy="109.9" r="2.25" fill="#ff0000"/>
<circle cx="521.6" cy="100.7" r="2.25" fill="#ff0000"/>
<rect x="527.8" y="97.1" width="4.4" height="4.4" fill="#0000ff"/>
<rect x="527.9" y="117.0" width="4.4" height="4.4" fill="#ff0000"/>
<circle cx="517.7" cy="80.7" r="2.25" fill="#0000ff"/>
<circle cx="521.7" cy="78.2" r="2.25" fill="#0000ff"/>
<path d="M547.9000000000001,78.6 L551.5,82.0 M547.9000000000001,82.0 L551.5,78.6" stroke="#0000ff" stroke-width="1.55"/>
<path d="M547.6,114.8 L551.1999999999999,118.2 M547.6,118.2 L551.1999999999999,114.8" stroke="#ff0000" stroke-width="1.55"/>
<path d="M572.8000000000001,53.199999999999996 L576.4,56.6 M572.8000000000001,56.6 L576.4,53.199999999999996" stroke="#0000ff" stroke-width="1.55"/>
<path d="M572.8000000000001,72.3 L576.4,75.7 M572.8000000000001,75.7 L576.4,72.3" stroke="#ff0000" stroke-width="1.55"/>
<path d="M581.3000000000001,58.099999999999994 L584.9,61.5 M581.3000000000001,61.5 L584.9,58.099999999999994" stroke="#0000ff" stroke-width="1.55"/>
<rect x="580.1999999999999" y="70.39999999999999" width="4.4" height="4.4" fill="#0000ff"/>
<path d="M581.3000000000001,93.89999999999999 L584.9,97.3 M581.3000000000001,97.3 L584.9,93.89999999999999" stroke="#ff0000" stroke-width="1.55"/>
<rect x="579.5" y="97.2" width="4.4" height="4.4" fill="#ff0000"/>
<rect x="614.8" y="46.3" width="4.4" height="4.4" fill="#0000ff"/>
<rect x="614.8" y="57.599999999999994" width="4.4" height="4.4" fill="#ff0000"/>
<rect x="627.0" y="37.4" width="4.4" height="4.4" fill="#0000ff"/>
<rect x="627.0" y="76.0" width="4.4" height="4.4" fill="#ff0000"/>
<text x="0" y="0" font-size="11.4" fill="#3a3a3a" transform="translate(445.4,90.45) rotate(-90)" text-anchor="middle" style="font-family:'Liberation Serif',serif" textLength="134" lengthAdjust="spacingAndGlyphs" stroke="#3a3a3a" stroke-width="0.08">norm. roughness judgment</text>
<text x="448.4" y="175.5" font-size="10.8" fill="#333" text-anchor="start" style="font-family:'Liberation Serif',serif;font-weight:normal;" textLength="209.8" lengthAdjust="spacingAndGlyphs"  stroke="#333" stroke-width="0.08">summary rate of displacement, RD (mm/s)</text>
<path d="M245.3,210.3 L245.3,329.5 L416.8,329.5" fill="none" stroke="#555" stroke-width="0.8"/>
<path d="M245.3,329.50 L246.9,329.50" stroke="#555" stroke-width="0.8"/>
<text x="241.20000000000002" y="332.4" font-size="10.6" fill="#3a3a3a" text-anchor="end" style="font-family:'Liberation Serif',serif;font-weight:normal;"  stroke="#3a3a3a" stroke-width="0.08">0</text>
<path d="M245.3,299.70 L246.9,299.70" stroke="#555" stroke-width="0.8"/>
<text x="241.20000000000002" y="302.59999999999997" font-size="10.6" fill="#3a3a3a" text-anchor="end" style="font-family:'Liberation Serif',serif;font-weight:normal;"  stroke="#3a3a3a" stroke-width="0.08">0.5</text>
<path d="M245.3,269.90 L246.9,269.90" stroke="#555" stroke-width="0.8"/>
<text x="241.20000000000002" y="272.79999999999995" font-size="10.6" fill="#3a3a3a" text-anchor="end" style="font-family:'Liberation Serif',serif;font-weight:normal;"  stroke="#3a3a3a" stroke-width="0.08">1</text>
<path d="M245.3,240.10 L246.9,240.10" stroke="#555" stroke-width="0.8"/>
<text x="241.20000000000002" y="243.00000000000003" font-size="10.6" fill="#3a3a3a" text-anchor="end" style="font-family:'Liberation Serif',serif;font-weight:normal;"  stroke="#3a3a3a" stroke-width="0.08">1.5</text>
<path d="M245.3,210.30 L246.9,210.30" stroke="#555" stroke-width="0.8"/>
<text x="241.20000000000002" y="213.20000000000002" font-size="10.6" fill="#3a3a3a" text-anchor="end" style="font-family:'Liberation Serif',serif;font-weight:normal;"  stroke="#3a3a3a" stroke-width="0.08">2</text>
<path d="M245.30,329.5 L245.30,327.9" stroke="#555" stroke-width="0.8"/>
<text x="245.3" y="342.2" font-size="10.6" fill="#3a3a3a" text-anchor="middle" style="font-family:'Liberation Serif',serif;font-weight:normal;"  stroke="#3a3a3a" stroke-width="0.08">0</text>
<path d="M294.20,329.5 L294.20,327.9" stroke="#555" stroke-width="0.8"/>
<text x="294.2" y="342.2" font-size="10.6" fill="#3a3a3a" text-anchor="middle" style="font-family:'Liberation Serif',serif;font-weight:normal;"  stroke="#3a3a3a" stroke-width="0.08">2</text>
<path d="M343.10,329.5 L343.10,327.9" stroke="#555" stroke-width="0.8"/>
<text x="343.1" y="342.2" font-size="10.6" fill="#3a3a3a" text-anchor="middle" style="font-family:'Liberation Serif',serif;font-weight:normal;"  stroke="#3a3a3a" stroke-width="0.08">4</text>
<path d="M392.00,329.5 L392.00,327.9" stroke="#555" stroke-width="0.8"/>
<text x="392.0" y="342.2" font-size="10.6" fill="#3a3a3a" text-anchor="middle" style="font-family:'Liberation Serif',serif;font-weight:normal;"  stroke="#3a3a3a" stroke-width="0.08">6</text>
<polyline points="245.30,329.50 245.31,326.31 245.35,324.18 245.41,322.31 245.49,320.61 245.60,319.01 245.73,317.50 245.88,316.05 246.06,314.65 246.26,313.30 246.49,311.98 246.74,310.71 247.01,309.46 247.31,308.23 247.63,307.03 247.97,305.86 248.34,304.70 248.73,303.56 249.15,302.44 249.59,301.34 250.05,300.25 250.54,299.17 251.05,298.11 251.59,297.06 252.15,296.02 252.73,294.99 253.33,293.98 253.96,292.97 254.62,291.98 255.30,290.99 256.00,290.01 256.72,289.04 257.47,288.08 258.24,287.12 259.04,286.18 259.86,285.24 260.70,284.31 261.57,283.38 262.46,282.46 263.38,281.55 264.32,280.64 265.28,279.74 266.27,278.85 267.28,277.96 268.31,277.07 269.37,276.19 270.45,275.32 271.55,274.45 272.68,273.58 273.84,272.73 275.01,271.87 276.21,271.02 277.44,270.17 278.69,269.33 279.96,268.49 281.25,267.66 282.57,266.83 283.92,266.00 285.28,265.18 286.67,264.36 288.09,263.55 289.53,262.73 290.99,261.93 292.47,261.12 293.98,260.32 295.52,259.52 297.07,258.73 298.65,257.93 300.26,257.15 301.89,256.36 303.54,255.58 305.21,254.80 306.91,254.02 308.64,253.24 310.38,252.47 312.16,251.70 313.95,250.94 315.77,250.17 317.61,249.41 319.48,248.65 321.37,247.90 323.28,247.14 325.22,246.39 327.18,245.65 329.16,244.90 331.17,244.15 333.20,243.41 335.26,242.67 337.34,241.94 339.44,241.20 341.57,240.47 343.72,239.74 345.90,239.01 348.10,238.28 350.32,237.56 352.57,236.83 354.84,236.11 357.13,235.39 359.45,234.68 361.79,233.96 364.15,233.25 366.54,232.54 368.96,231.83 371.39,231.12 373.85,230.41 376.34,229.71 378.84,229.01 381.38,228.31 383.93,227.61 386.51,226.91 389.11,226.21 391.74,225.52 394.39,224.83 397.06,224.14 399.76,223.45 402.48,222.76 405.23,222.07 408.00,221.39 410.79,220.71 413.61,220.02 416.45,219.34" fill="none" stroke="#1a1a1a" stroke-width="1.1"/>
<path d="M247,299 L247,312.9" stroke="#ff0000" stroke-opacity="0.62" stroke-width="1.1"/>
<path d="M253,303.6 L253,313.6" stroke="#0000ff" stroke-opacity="0.62" stroke-width="1.1"/>
<path d="M249,289 L249,300" stroke="#ff0000" stroke-opacity="0.62" stroke-width="1.1"/>
<path d="M251,292 L251,303" stroke="#ff0000" stroke-opacity="0.62" stroke-width="1.1"/>
<path d="M251.5,295 L251.5,306" stroke="#ff0000" stroke-opacity="0.62" stroke-width="1.1"/>
<path d="M256.5,285 L256.5,295" stroke="#ff0000" stroke-opacity="0.62" stroke-width="1.1"/>
<path d="M259.5,290 L259.5,306" stroke="#ff0000" stroke-opacity="0.62" stroke-width="1.1"/>
<path d="M262,282 L262,292" stroke="#0000ff" stroke-opacity="0.62" stroke-width="1.1"/>
<path d="M258.5,275 L258.5,288" stroke="#ff0000" stroke-opacity="0.62" stroke-width="1.1"/>
<path d="M265.3,272 L265.3,288" stroke="#ff0000" stroke-opacity="0.62" stroke-width="1.1"/>
<path d="M269.5,273 L269.5,285" stroke="#0000ff" stroke-opacity="0.62" stroke-width="1.1"/>
<path d="M272,276 L272,289" stroke="#0000ff" stroke-opacity="0.62" stroke-width="1.1"/>
<path d="M273.6,267 L273.6,282" stroke="#ff0000" stroke-opacity="0.62" stroke-width="1.1"/>
<path d="M269.5,243.3 L269.5,264.1" stroke="#ff0000" stroke-opacity="0.62" stroke-width="1.1"/>
<path d="M279.4,235 L279.4,246.6" stroke="#ff0000" stroke-opacity="0.62" stroke-width="1.1"/>
<path d="M285.4,250.8 L285.4,265.7" stroke="#ff0000" stroke-opacity="0.62" stroke-width="1.1"/>
<path d="M291.1,251.5 L291.1,268.5" stroke="#0000ff" stroke-opacity="0.62" stroke-width="1.1"/>
<path d="M298.8,247.5 L298.8,268.5" stroke="#0000ff" stroke-opacity="0.62" stroke-width="1.1"/>
<path d="M302.8,253 L302.8,267" stroke="#0000ff" stroke-opacity="0.62" stroke-width="1.1"/>
<path d="M325.5,241.7 L325.5,263" stroke="#0000ff" stroke-opacity="0.62" stroke-width="1.1"/>
<path d="M343.3,223.3 L343.3,246.5" stroke="#0000ff" stroke-opacity="0.62" stroke-width="1.1"/>
<path d="M360.1,232 L360.1,247.5" stroke="#0000ff" stroke-opacity="0.62" stroke-width="1.1"/>
<path d="M382.4,219.4 L382.4,236.8" stroke="#0000ff" stroke-opacity="0.62" stroke-width="1.1"/>
<path d="M406.4,210.7 L406.4,229" stroke="#0000ff" stroke-opacity="0.62" stroke-width="1.1"/>
<circle cx="247" cy="303.9" r="2.25" fill="#ff0000"/>
<circle cx="253" cy="308.2" r="2.25" fill="#0000ff"/>
<path d="M247.2,291.8 L250.8,295.2 M247.2,295.2 L250.8,291.8" stroke="#ff0000" stroke-width="1.55"/>
<circle cx="251" cy="297.5" r="2.25" fill="#ff0000"/>
<rect x="249.3" y="298.3" width="4.4" height="4.4" fill="#ff0000"/>
<circle cx="256.5" cy="289.8" r="2.25" fill="#ff0000"/>
<path d="M257.7,294.3 L261.3,297.7 M257.7,297.7 L261.3,294.3" stroke="#ff0000" stroke-width="1.55"/>
<path d="M260.2,284.6 L263.8,288.0 M260.2,288.0 L263.8,284.6" stroke="#0000ff" stroke-width="1.55"/>
<circle cx="258.5" cy="281" r="2.25" fill="#ff0000"/>
<rect x="263.1" y="276.8" width="4.4" height="4.4" fill="#ff0000"/>
<rect x="267.3" y="276.3" width="4.4" height="4.4" fill="#0000ff"/>
<circle cx="272" cy="282" r="2.25" fill="#0000ff"/>
<path d="M271.8,273.5 L275.40000000000003,276.9 M271.8,276.9 L275.40000000000003,273.5" stroke="#ff0000" stroke-width="1.55"/>
<path d="M267.7,252.4 L271.3,255.79999999999998 M267.7,255.79999999999998 L271.3,252.4" stroke="#ff0000" stroke-width="1.55"/>
<rect x="277.2" y="237.5" width="4.4" height="4.4" fill="#ff0000"/>
<rect x="283.2" y="256.0" width="4.4" height="4.4" fill="#ff0000"/>
<circle cx="291.1" cy="260.4" r="2.25" fill="#0000ff"/>
<circle cx="298.8" cy="258.2" r="2.25" fill="#0000ff"/>
<path d="M301.0,258.40000000000003 L304.6,261.8 M301.0,261.8 L304.6,258.40000000000003" stroke="#0000ff" stroke-width="1.55"/>
<rect x="323.3" y="250.10000000000002" width="4.4" height="4.4" fill="#0000ff"/>
<path d="M341.5,233.20000000000002 L345.1,236.6 M341.5,236.6 L345.1,233.20000000000002" stroke="#0000ff" stroke-width="1.55"/>
<path d="M358.3,238.0 L361.90000000000003,241.39999999999998 M358.3,241.39999999999998 L361.90000000000003,238.0" stroke="#0000ff" stroke-width="1.55"/>
<rect x="380.2" y="226.3" width="4.4" height="4.4" fill="#0000ff"/>
<rect x="404.2" y="217.20000000000002" width="4.4" height="4.4" fill="#0000ff"/>
<text x="0" y="0" font-size="11.4" fill="#3a3a3a" transform="translate(222.4,270.40) rotate(-90)" text-anchor="middle" style="font-family:'Liberation Serif',serif" textLength="134" lengthAdjust="spacingAndGlyphs" stroke="#3a3a3a" stroke-width="0.08">norm. roughness judgment</text>
<text x="268.8" y="356.2" font-size="10.8" fill="#333" text-anchor="start" style="font-family:'Liberation Serif',serif;font-weight:normal;" textLength="125.1" lengthAdjust="spacingAndGlyphs"  stroke="#333" stroke-width="0.08">summary stretch, S (mm)</text>
<text x="400" y="341.8" font-size="10" fill="#333" text-anchor="start" style="font-family:'Liberation Serif',serif;font-weight:normal;" textLength="17" lengthAdjust="spacingAndGlyphs"  stroke="#333" stroke-width="0.08">×10</text>
<text x="414.3" y="338.6" font-size="7.6" fill="#333" text-anchor="start" style="font-family:'Liberation Serif',serif;font-weight:normal;" textLength="12" lengthAdjust="spacingAndGlyphs"  stroke="#333" stroke-width="0.08">−3</text>
<path d="M468.2,211.6 L468.2,330.8 L639.6,330.8" fill="none" stroke="#555" stroke-width="0.8"/>
<path d="M468.2,330.80 L469.8,330.80" stroke="#555" stroke-width="0.8"/>
<text x="464.09999999999997" y="333.7" font-size="10.6" fill="#3a3a3a" text-anchor="end" style="font-family:'Liberation Serif',serif;font-weight:normal;"  stroke="#3a3a3a" stroke-width="0.08">0</text>
<path d="M468.2,301.00 L469.8,301.00" stroke="#555" stroke-width="0.8"/>
<text x="464.09999999999997" y="303.9" font-size="10.6" fill="#3a3a3a" text-anchor="end" style="font-family:'Liberation Serif',serif;font-weight:normal;"  stroke="#3a3a3a" stroke-width="0.08">0.5</text>
<path d="M468.2,271.20 L469.8,271.20" stroke="#555" stroke-width="0.8"/>
<text x="464.09999999999997" y="274.09999999999997" font-size="10.6" fill="#3a3a3a" text-anchor="end" style="font-family:'Liberation Serif',serif;font-weight:normal;"  stroke="#3a3a3a" stroke-width="0.08">1</text>
<path d="M468.2,241.40 L469.8,241.40" stroke="#555" stroke-width="0.8"/>
<text x="464.09999999999997" y="244.3" font-size="10.6" fill="#3a3a3a" text-anchor="end" style="font-family:'Liberation Serif',serif;font-weight:normal;"  stroke="#3a3a3a" stroke-width="0.08">1.5</text>
<path d="M468.2,211.60 L469.8,211.60" stroke="#555" stroke-width="0.8"/>
<text x="464.09999999999997" y="214.5" font-size="10.6" fill="#3a3a3a" text-anchor="end" style="font-family:'Liberation Serif',serif;font-weight:normal;"  stroke="#3a3a3a" stroke-width="0.08">2</text>
<path d="M468.20,330.8 L468.20,329.2" stroke="#555" stroke-width="0.8"/>
<text x="468.2" y="343.4" font-size="10.6" fill="#3a3a3a" text-anchor="middle" style="font-family:'Liberation Serif',serif;font-weight:normal;"  stroke="#3a3a3a" stroke-width="0.08">0</text>
<path d="M502.48,330.8 L502.48,329.2" stroke="#555" stroke-width="0.8"/>
<text x="502.48" y="343.4" font-size="10.6" fill="#3a3a3a" text-anchor="middle" style="font-family:'Liberation Serif',serif;font-weight:normal;"  stroke="#3a3a3a" stroke-width="0.08">0.5</text>
<path d="M536.76,330.8 L536.76,329.2" stroke="#555" stroke-width="0.8"/>
<text x="536.76" y="343.4" font-size="10.6" fill="#3a3a3a" text-anchor="middle" style="font-family:'Liberation Serif',serif;font-weight:normal;"  stroke="#3a3a3a" stroke-width="0.08">1</text>
<path d="M571.04,330.8 L571.04,329.2" stroke="#555" stroke-width="0.8"/>
<text x="571.04" y="343.4" font-size="10.6" fill="#3a3a3a" text-anchor="middle" style="font-family:'Liberation Serif',serif;font-weight:normal;"  stroke="#3a3a3a" stroke-width="0.08">1.5</text>
<path d="M605.32,330.8 L605.32,329.2" stroke="#555" stroke-width="0.8"/>
<text x="605.32" y="343.4" font-size="10.6" fill="#3a3a3a" text-anchor="middle" style="font-family:'Liberation Serif',serif;font-weight:normal;"  stroke="#3a3a3a" stroke-width="0.08">2</text>
<path d="M639.60,330.8 L639.60,329.2" stroke="#555" stroke-width="0.8"/>
<text x="639.6" y="343.4" font-size="10.6" fill="#3a3a3a" text-anchor="middle" style="font-family:'Liberation Serif',serif;font-weight:normal;"  stroke="#3a3a3a" stroke-width="0.08">2.5</text>
<polyline points="468.20,330.80 468.21,329.25 468.25,327.91 468.31,326.63 468.39,325.40 468.50,324.20 468.63,323.02 468.78,321.86 468.96,320.72 469.16,319.59 469.39,318.48 469.64,317.38 469.91,316.28 470.21,315.20 470.53,314.12 470.88,313.05 471.25,311.99 471.64,310.94 472.06,309.89 472.50,308.85 472.96,307.81 473.45,306.78 473.96,305.75 474.50,304.73 475.06,303.71 475.64,302.70 476.25,301.69 476.88,300.68 477.53,299.68 478.21,298.68 478.91,297.68 479.64,296.69 480.39,295.70 481.16,294.72 481.96,293.74 482.78,292.76 483.63,291.78 484.49,290.80 485.39,289.83 486.30,288.86 487.24,287.90 488.21,286.93 489.20,285.97 490.21,285.01 491.24,284.05 492.30,283.10 493.39,282.15 494.49,281.20 495.62,280.25 496.78,279.30 497.96,278.36 499.16,277.41 500.39,276.47 501.63,275.53 502.91,274.59 504.21,273.66 505.53,272.72 506.87,271.79 508.24,270.86 509.63,269.93 511.05,269.00 512.49,268.08 513.95,267.15 515.44,266.23 516.95,265.31 518.49,264.39 520.05,263.47 521.63,262.55 523.24,261.63 524.87,260.72 526.52,259.81 528.20,258.89 529.90,257.98 531.63,257.07 533.38,256.17 535.15,255.26 536.95,254.35 538.77,253.45 540.62,252.54 542.49,251.64 544.38,250.74 546.29,249.84 548.23,248.94 550.20,248.04 552.19,247.15 554.20,246.25 556.23,245.36 558.29,244.46 560.38,243.57 562.48,242.68 564.61,241.79 566.77,240.90 568.95,240.01 571.15,239.12 573.37,238.24 575.62,237.35 577.90,236.46 580.19,235.58 582.51,234.70 584.86,233.82 587.23,232.93 589.62,232.05 592.04,231.17 594.48,230.30 596.94,229.42 599.43,228.54 601.94,227.67 604.47,226.79 607.03,225.92 609.62,225.04 612.22,224.17 614.85,223.30 617.51,222.43 620.19,221.56 622.89,220.69 625.61,219.82 628.36,218.95 631.14,218.08 633.93,217.21 636.76,216.35 639.60,215.48" fill="none" stroke="#1a1a1a" stroke-width="1.1"/>
<path d="M471.8,297.4 L471.8,314" stroke="#ff0000" stroke-opacity="0.62" stroke-width="1.1"/>
<path d="M475.1,303 L475.1,316" stroke="#0000ff" stroke-opacity="0.62" stroke-width="1.1"/>
<path d="M476,289 L476,302.4" stroke="#ff0000" stroke-opacity="0.62" stroke-width="1.1"/>
<path d="M478.5,293 L478.5,308" stroke="#ff0000" stroke-opacity="0.62" stroke-width="1.1"/>
<path d="M480.6,293 L480.6,306" stroke="#ff0000" stroke-opacity="0.62" stroke-width="1.1"/>
<path d="M483.1,280 L483.1,295" stroke="#0000ff" stroke-opacity="0.62" stroke-width="1.1"/>
<path d="M488.8,285 L488.8,298" stroke="#ff0000" stroke-opacity="0.62" stroke-width="1.1"/>
<path d="M489.3,274 L489.3,288" stroke="#0000ff" stroke-opacity="0.62" stroke-width="1.1"/>
<path d="M491.8,277 L491.8,290" stroke="#0000ff" stroke-opacity="0.62" stroke-width="1.1"/>
<path d="M492.1,275 L492.1,291" stroke="#ff0000" stroke-opacity="0.62" stroke-width="1.1"/>
<path d="M493.9,288.3 L493.9,306.6" stroke="#ff0000" stroke-opacity="0.62" stroke-width="1.1"/>
<path d="M504.1,274 L504.1,288" stroke="#ff0000" stroke-opacity="0.62" stroke-width="1.1"/>
<path d="M519.5,268 L519.5,285" stroke="#ff0000" stroke-opacity="0.62" stroke-width="1.1"/>
<path d="M509,253 L509,269" stroke="#0000ff" stroke-opacity="0.62" stroke-width="1.1"/>
<path d="M512.3,243.9 L512.3,266.4" stroke="#ff0000" stroke-opacity="0.62" stroke-width="1.1"/>
<path d="M516.2,248.4 L516.2,269" stroke="#0000ff" stroke-opacity="0.62" stroke-width="1.1"/>
<path d="M519.8,254.7 L519.8,271.8" stroke="#0000ff" stroke-opacity="0.62" stroke-width="1.1"/>
<path d="M529.7,234 L529.7,248.4" stroke="#ff0000" stroke-opacity="0.62" stroke-width="1.1"/>
<path d="M540,243 L540,263.7" stroke="#0000ff" stroke-opacity="0.62" stroke-width="1.1"/>
<path d="M540,253.8 L540,268.2" stroke="#ff0000" stroke-opacity="0.62" stroke-width="1.1"/>
<path d="M556.2,225.2 L556.2,247.5" stroke="#0000ff" stroke-opacity="0.62" stroke-width="1.1"/>
<path d="M571.3,233 L571.3,249.4" stroke="#0000ff" stroke-opacity="0.62" stroke-width="1.1"/>
<path d="M591.3,221.3 L591.3,238.8" stroke="#0000ff" stroke-opacity="0.62" stroke-width="1.1"/>
<path d="M612.4,211.6 L612.4,231" stroke="#0000ff" stroke-opacity="0.62" stroke-width="1.1"/>
<circle cx="471.8" cy="305.7" r="2.25" fill="#ff0000"/>
<circle cx="475.1" cy="309.6" r="2.25" fill="#0000ff"/>
<path d="M474.2,294.1 L477.8,297.5 M474.2,297.5 L477.8,294.1" stroke="#ff0000" stroke-width="1.55"/>
<circle cx="478.5" cy="300.7" r="2.25" fill="#ff0000"/>
<circle cx="480.6" cy="299.1" r="2.25" fill="#ff0000"/>
<path d="M481.3,285.8 L484.90000000000003,289.2 M481.3,289.2 L484.90000000000003,285.8" stroke="#0000ff" stroke-width="1.55"/>
<circle cx="488.8" cy="291.3" r="2.25" fill="#ff0000"/>
<rect x="487.1" y="278.6" width="4.4" height="4.4" fill="#0000ff"/>
<circle cx="491.8" cy="283.3" r="2.25" fill="#0000ff"/>
<circle cx="492.1" cy="282" r="2.25" fill="#ff0000"/>
<path d="M492.09999999999997,295.7 L495.7,299.09999999999997 M492.09999999999997,299.09999999999997 L495.7,295.7" stroke="#ff0000" stroke-width="1.55"/>
<rect x="501.90000000000003" y="278.40000000000003" width="4.4" height="4.4" fill="#ff0000"/>
<path d="M517.7,275.5 L521.3,278.9 M517.7,278.9 L521.3,275.5" stroke="#ff0000" stroke-width="1.55"/>
<circle cx="509" cy="261.9" r="2.25" fill="#0000ff"/>
<path d="M510.49999999999994,253.60000000000002 L514.0999999999999,257.0 M510.49999999999994,257.0 L514.0999999999999,253.60000000000002" stroke="#ff0000" stroke-width="1.55"/>
<circle cx="516.2" cy="259.2" r="2.25" fill="#0000ff"/>
<path d="M518.0,260.2 L521.5999999999999,263.59999999999997 M518.0,263.59999999999997 L521.5999999999999,260.2" stroke="#0000ff" stroke-width="1.55"/>
<rect x="527.5" y="239.0" width="4.4" height="4.4" fill="#ff0000"/>
<rect x="537.8" y="251.60000000000002" width="4.4" height="4.4" fill="#0000ff"/>
<rect x="537.8" y="257.40000000000003" width="4.4" height="4.4" fill="#ff0000"/>
<path d="M554.4000000000001,234.5 L558.0,237.89999999999998 M554.4000000000001,237.89999999999998 L558.0,234.5" stroke="#0000ff" stroke-width="1.55"/>
<path d="M569.5,239.0 L573.0999999999999,242.39999999999998 M569.5,242.39999999999998 L573.0999999999999,239.0" stroke="#0000ff" stroke-width="1.55"/>
<rect x="589.0999999999999" y="227.8" width="4.4" height="4.4" fill="#0000ff"/>
<rect x="610.1999999999999" y="218.5" width="4.4" height="4.4" fill="#0000ff"/>
<text x="0" y="0" font-size="11.4" fill="#3a3a3a" transform="translate(445.4,271.70) rotate(-90)" text-anchor="middle" style="font-family:'Liberation Serif',serif" textLength="134" lengthAdjust="spacingAndGlyphs" stroke="#3a3a3a" stroke-width="0.08">norm. roughness judgment</text>
<text x="464" y="357.3" font-size="10.8" fill="#333" text-anchor="start" style="font-family:'Liberation Serif',serif;font-weight:normal;" textLength="180" lengthAdjust="spacingAndGlyphs"  stroke="#333" stroke-width="0.08">summary rate of stretch, RS (mm/s)</text>
<text x="356.2" y="119.7" font-size="10.8" fill="#151515" style="font-family:'Liberation Serif',serif;font-style:italic" stroke="#151515" stroke-width="0.08">R</text>
<text x="363.5" y="116.3" font-size="7.6" fill="#151515" style="font-family:'Liberation Serif',serif" stroke="#151515" stroke-width="0.08">2</text>
<text x="370.2" y="119.4" font-size="10.8" fill="#151515" style="font-family:'Liberation Serif',serif" textLength="9" lengthAdjust="spacingAndGlyphs" stroke="#151515" stroke-width="0.35">=</text>
<text x="381.5" y="119.7" font-size="10.8" fill="#151515" style="font-family:'Liberation Serif',serif" textLength="18.6" lengthAdjust="spacingAndGlyphs" stroke="#151515" stroke-width="0.08">0.84</text>
<text x="356.0" y="133.8" font-size="10.8" fill="#151515" style="font-family:'Liberation Serif',serif;font-style:italic" stroke="#151515" stroke-width="0.08">y</text>
<text x="364.3" y="133.5" font-size="10.8" fill="#151515" style="font-family:'Liberation Serif',serif" textLength="9" lengthAdjust="spacingAndGlyphs" stroke="#151515" stroke-width="0.35">=</text>
<text x="375.20000000000005" y="133.8" font-size="10.8" fill="#151515" style="font-family:'Liberation Serif',serif" textLength="14.100000000000001" lengthAdjust="spacingAndGlyphs" stroke="#151515" stroke-width="0.08">2.2</text>
<text x="388.40000000000003" y="133.8" font-size="10.8" fill="#151515" style="font-family:'Liberation Serif',serif;font-style:italic" stroke="#151515" stroke-width="0.08">x</text>
<text x="394.09999999999997" y="130.4" font-size="7.6" fill="#151515" style="font-family:'Liberation Serif',serif" textLength="12.3" lengthAdjust="spacingAndGlyphs" stroke="#151515" stroke-width="0.08">0.59</text>
<text x="575.5" y="119.7" font-size="10.8" fill="#151515" style="font-family:'Liberation Serif',serif;font-style:italic" stroke="#151515" stroke-width="0.08">R</text>
<text x="582.8" y="116.3" font-size="7.6" fill="#151515" style="font-family:'Liberation Serif',serif" stroke="#151515" stroke-width="0.08">2</text>
<text x="589.5" y="119.4" font-size="10.8" fill="#151515" style="font-family:'Liberation Serif',serif" textLength="9" lengthAdjust="spacingAndGlyphs" stroke="#151515" stroke-width="0.35">=</text>
<text x="600.4" y="119.7" font-size="10.8" fill="#151515" style="font-family:'Liberation Serif',serif" textLength="18.6" lengthAdjust="spacingAndGlyphs" stroke="#151515" stroke-width="0.08">0.64</text>
<text x="575.3" y="133.8" font-size="10.8" fill="#151515" style="font-family:'Liberation Serif',serif;font-style:italic" stroke="#151515" stroke-width="0.08">y</text>
<text x="583.6" y="133.5" font-size="10.8" fill="#151515" style="font-family:'Liberation Serif',serif" textLength="9" lengthAdjust="spacingAndGlyphs" stroke="#151515" stroke-width="0.35">=</text>
<text x="594.5" y="133.8" font-size="10.8" fill="#151515" style="font-family:'Liberation Serif',serif" textLength="16.5" lengthAdjust="spacingAndGlyphs" stroke="#151515" stroke-width="0.08">0.06</text>
<text x="610.8" y="133.8" font-size="10.8" fill="#151515" style="font-family:'Liberation Serif',serif;font-style:italic" stroke="#151515" stroke-width="0.08">x</text>
<text x="616.9" y="130.4" font-size="7.6" fill="#151515" style="font-family:'Liberation Serif',serif" textLength="12.3" lengthAdjust="spacingAndGlyphs" stroke="#151515" stroke-width="0.08">0.62</text>
<text x="367.9" y="299.6" font-size="10.8" fill="#151515" style="font-family:'Liberation Serif',serif;font-style:italic" stroke="#151515" stroke-width="0.08">R</text>
<text x="375.2" y="296.20000000000005" font-size="7.6" fill="#151515" style="font-family:'Liberation Serif',serif" stroke="#151515" stroke-width="0.08">2</text>
<text x="381.9" y="299.3" font-size="10.8" fill="#151515" style="font-family:'Liberation Serif',serif" textLength="9" lengthAdjust="spacingAndGlyphs" stroke="#151515" stroke-width="0.35">=</text>
<text x="392.90000000000003" y="299.6" font-size="10.8" fill="#151515" style="font-family:'Liberation Serif',serif" textLength="18.6" lengthAdjust="spacingAndGlyphs" stroke="#151515" stroke-width="0.08">0.87</text>
<text x="367.7" y="313.8" font-size="10.8" fill="#151515" style="font-family:'Liberation Serif',serif;font-style:italic" stroke="#151515" stroke-width="0.08">y</text>
<text x="376.0" y="313.5" font-size="10.8" fill="#151515" style="font-family:'Liberation Serif',serif" textLength="9" lengthAdjust="spacingAndGlyphs" stroke="#151515" stroke-width="0.35">=</text>
<text x="386.5" y="313.8" font-size="10.8" fill="#151515" style="font-family:'Liberation Serif',serif" textLength="9.700000000000001" lengthAdjust="spacingAndGlyphs" stroke="#151515" stroke-width="0.08">12</text>
<text x="395.6" y="313.8" font-size="10.8" fill="#151515" style="font-family:'Liberation Serif',serif;font-style:italic" stroke="#151515" stroke-width="0.08">x</text>
<text x="402.0" y="310.40000000000003" font-size="7.6" fill="#151515" style="font-family:'Liberation Serif',serif" textLength="13.5" lengthAdjust="spacingAndGlyphs" stroke="#151515" stroke-width="0.08">0.37</text>
<text x="588.6" y="300.8" font-size="10.8" fill="#151515" style="font-family:'Liberation Serif',serif;font-style:italic" stroke="#151515" stroke-width="0.08">R</text>
<text x="595.9" y="297.40000000000003" font-size="7.6" fill="#151515" style="font-family:'Liberation Serif',serif" stroke="#151515" stroke-width="0.08">2</text>
<text x="602.6" y="300.5" font-size="10.8" fill="#151515" style="font-family:'Liberation Serif',serif" textLength="9" lengthAdjust="spacingAndGlyphs" stroke="#151515" stroke-width="0.35">=</text>
<text x="613.5" y="300.8" font-size="10.8" fill="#151515" style="font-family:'Liberation Serif',serif" textLength="18.2" lengthAdjust="spacingAndGlyphs" stroke="#151515" stroke-width="0.08">0.91</text>
<text x="588.1" y="315.4" font-size="10.8" fill="#151515" style="font-family:'Liberation Serif',serif;font-style:italic" stroke="#151515" stroke-width="0.08">y</text>
<text x="596.4000000000001" y="315.09999999999997" font-size="10.8" fill="#151515" style="font-family:'Liberation Serif',serif" textLength="9" lengthAdjust="spacingAndGlyphs" stroke="#151515" stroke-width="0.35">=</text>
<text x="607.3000000000001" y="315.4" font-size="10.8" fill="#151515" style="font-family:'Liberation Serif',serif" textLength="12.700000000000001" lengthAdjust="spacingAndGlyphs" stroke="#151515" stroke-width="0.08">1.3</text>
<text x="619.4" y="315.4" font-size="10.8" fill="#151515" style="font-family:'Liberation Serif',serif;font-style:italic" stroke="#151515" stroke-width="0.08">x</text>
<text x="626.1999999999999" y="312.0" font-size="7.6" fill="#151515" style="font-family:'Liberation Serif',serif" textLength="12.3" lengthAdjust="spacingAndGlyphs" stroke="#151515" stroke-width="0.08">0.45</text>
<circle cx="260.9" cy="4.6" r="2.1" fill="#000"/>
<text x="271.6" y="8.0" font-size="10.8" fill="#111" text-anchor="start" style="font-family:'Liberation Serif',serif;font-weight:normal;" textLength="23.4" lengthAdjust="spacingAndGlyphs"  stroke="#111" stroke-width="0.08">S3-x</text>
<path d="M306.5,2.7 L310.4,6.5 M306.5,6.5 L310.4,2.7" stroke="#000" stroke-width="1.5"/>
<text x="318.6" y="8.0" font-size="10.8" fill="#111" text-anchor="start" style="font-family:'Liberation Serif',serif;font-weight:normal;" textLength="23.6" lengthAdjust="spacingAndGlyphs"  stroke="#111" stroke-width="0.08">S4-x</text>
<rect x="352.8" y="2.4" width="4.5" height="4.5" fill="#000"/>
<text x="365.5" y="8.0" font-size="10.8" fill="#111" text-anchor="start" style="font-family:'Liberation Serif',serif;font-weight:normal;" textLength="23.4" lengthAdjust="spacingAndGlyphs"  stroke="#111" stroke-width="0.08">S5-x</text>
<path d="M271.3,19.9 L285.5,19.9" stroke="#0000ff" stroke-width="2.6" stroke-linecap="round"/>
<text x="293.6" y="22.7" font-size="10.8" fill="#111" text-anchor="start" style="font-family:'Liberation Serif',serif;font-weight:normal;" textLength="25.6" lengthAdjust="spacingAndGlyphs"  stroke="#111" stroke-width="0.08">40Hz</text>
<path d="M330.9,19.9 L344.1,19.9" stroke="#ff0000" stroke-width="2.6" stroke-linecap="round"/>
<text x="352.8" y="22.7" font-size="10.8" fill="#111" text-anchor="start" style="font-family:'Liberation Serif',serif;font-weight:normal;" textLength="25.8" lengthAdjust="spacingAndGlyphs"  stroke="#111" stroke-width="0.08">80Hz</text></svg>
</body></html>
